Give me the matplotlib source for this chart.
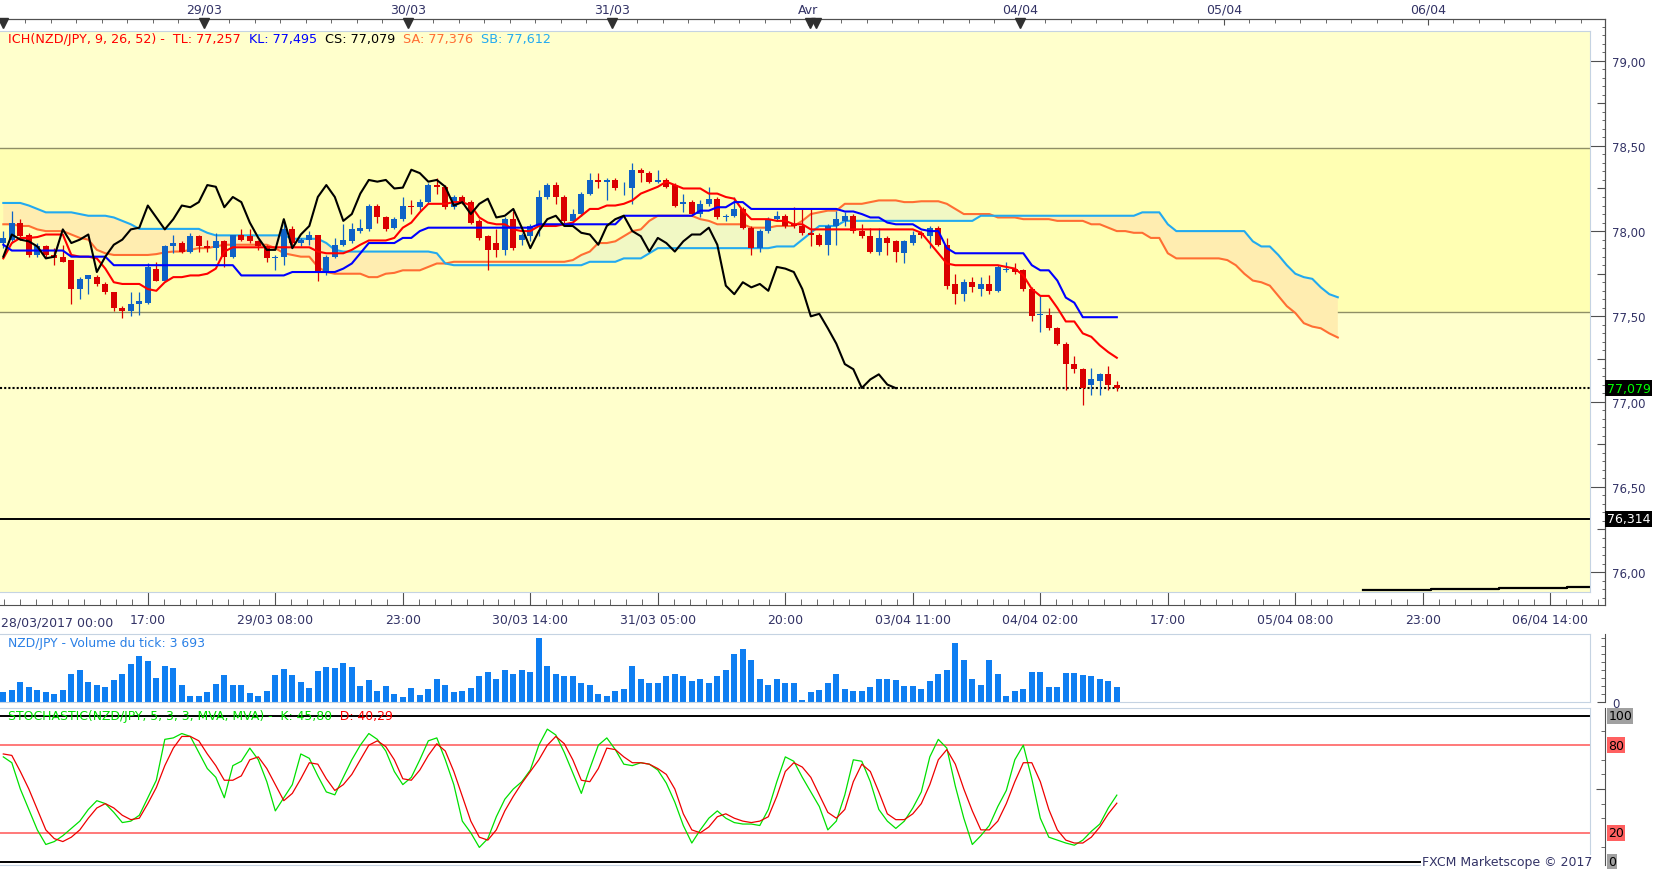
import numpy as np
import matplotlib
matplotlib.use("Agg")
import matplotlib.pyplot as plt
from matplotlib.ticker import FixedLocator

# hourly bars, index 0 = 28/03/2017 00:00 (weekend gap skipped)
OPEN = [77.93, 77.95, 78.05, 77.98, 77.86, 77.91, 77.86, 77.85, 77.83, 77.66,
        77.72, 77.73, 77.69, 77.64, 77.55, 77.53, 77.57, 77.58, 77.78, 77.71,
        77.91, 77.93, 77.88, 77.97, 77.91, 77.90, 77.94, 77.85, 77.98, 77.97,
        77.94, 77.91, 77.84, 77.85, 78.01, 77.93, 77.95, 77.98, 77.76, 77.85,
        77.92, 77.94, 78.00, 78.01, 78.15, 78.08, 78.02, 78.07, 78.15, 78.14,
        78.17, 78.27, 78.26, 78.14, 78.20, 78.17, 78.06, 77.97, 77.93, 77.89,
        78.07, 77.95, 77.97, 78.03, 78.20, 78.27, 78.20, 78.06, 78.10, 78.22,
        78.30, 78.29, 78.30, 78.25, 78.25, 78.36, 78.34, 78.29, 78.30, 78.27,
        78.16, 78.17, 78.10, 78.16, 78.19, 78.08, 78.09, 78.13, 78.02, 77.90,
        78.00, 78.07, 78.09, 78.04, 78.03, 77.99, 77.98, 77.92, 78.03, 78.06,
        78.09, 78.00, 77.97, 77.88, 77.96, 77.94, 77.87, 77.93, 77.99, 77.97,
        78.02, 77.92, 77.69, 77.63, 77.70, 77.66, 77.69, 77.65, 77.77, 77.78,
        77.77, 77.66, 77.505, 77.51, 77.43, 77.34, 77.22, 77.19, 77.10, 77.12,
        77.16, 77.10]
HIGH = [78.00, 78.12, 78.07, 77.99, 77.93, 77.92, 77.90, 77.92, 77.83, 77.73,
        77.74, 77.74, 77.70, 77.64, 77.56, 77.64, 77.64, 77.81, 77.82, 77.92,
        77.98, 77.94, 77.99, 77.98, 77.95, 77.99, 77.95, 77.98, 78.01, 78.01,
        77.95, 77.92, 77.86, 78.06, 78.03, 77.96, 78.00, 77.98, 77.86, 77.96,
        78.04, 78.05, 78.07, 78.16, 78.16, 78.09, 78.08, 78.20, 78.18, 78.19,
        78.28, 78.31, 78.27, 78.21, 78.21, 78.18, 78.07, 77.98, 78.01, 78.08,
        78.12, 77.99, 78.04, 78.24, 78.28, 78.29, 78.21, 78.13, 78.23, 78.34,
        78.34, 78.31, 78.31, 78.29, 78.40, 78.37, 78.35, 78.36, 78.31, 78.28,
        78.22, 78.18, 78.18, 78.26, 78.20, 78.10, 78.20, 78.14, 78.03, 78.01,
        78.08, 78.12, 78.10, 78.14, 78.13, 78.13, 77.99, 78.04, 78.12, 78.11,
        78.10, 78.04, 78.02, 78.02, 77.97, 77.95, 77.95, 78.00, 78.00, 78.03,
        78.03, 77.96, 77.75, 77.72, 77.73, 77.73, 77.74, 77.80, 77.82, 77.81,
        77.78, 77.67, 77.62, 77.55, 77.44, 77.35, 77.27, 77.20, 77.20, 77.17,
        77.21, 77.12]
LOW = [77.90, 77.93, 77.95, 77.85, 77.85, 77.85, 77.80, 77.82, 77.57, 77.60,
       77.63, 77.68, 77.63, 77.53, 77.49, 77.50, 77.51, 77.57, 77.71, 77.70,
       77.87, 77.87, 77.87, 77.88, 77.88, 77.83, 77.79, 77.84, 77.94, 77.93,
       77.89, 77.82, 77.77, 77.80, 77.92, 77.91, 77.92, 77.71, 77.74, 77.84,
       77.91, 77.93, 77.99, 78.00, 78.05, 78.00, 78.01, 78.06, 78.10, 78.12,
       78.16, 78.22, 78.13, 78.13, 78.16, 78.04, 77.95, 77.77, 77.85, 77.86,
       77.89, 77.92, 77.94, 77.97, 78.19, 78.16, 78.05, 78.05, 78.09, 78.21,
       78.25, 78.18, 78.24, 78.21, 78.16, 78.29, 78.28, 78.28, 78.25, 78.14,
       78.11, 78.09, 78.08, 78.15, 78.07, 78.06, 78.08, 78.01, 77.86, 77.88,
       77.99, 78.06, 78.02, 78.02, 77.98, 77.91, 77.91, 77.86, 77.92, 78.03,
       77.99, 77.96, 77.87, 77.86, 77.86, 77.82, 77.81, 77.92, 77.96, 77.90,
       77.91, 77.66, 77.57, 77.59, 77.64, 77.62, 77.63, 77.64, 77.76, 77.75,
       77.65, 77.47, 77.41, 77.42, 77.33, 77.07, 77.17, 76.98, 77.04, 77.04,
       77.07, 77.06]
CLOSE = [77.96, 78.05, 77.97, 77.86, 77.91, 77.86, 77.84, 77.82, 77.66, 77.72,
         77.74, 77.69, 77.64, 77.55, 77.53, 77.57, 77.59, 77.79, 77.71, 77.91,
         77.93, 77.88, 77.97, 77.91, 77.90, 77.94, 77.85, 77.98, 77.95, 77.94,
         77.91, 77.84, 77.85, 78.01, 77.93, 77.95, 77.98, 77.76, 77.85, 77.92,
         77.95, 78.01, 78.02, 78.15, 78.08, 78.01, 78.07, 78.15, 78.14, 78.17,
         78.27, 78.26, 78.14, 78.20, 78.17, 78.05, 77.96, 77.89, 77.89, 78.07,
         77.90, 77.98, 78.03, 78.20, 78.27, 78.20, 78.06, 78.10, 78.22, 78.30,
         78.29, 78.30, 78.25, 78.255, 78.36, 78.34, 78.29, 78.30, 78.26, 78.15,
         78.17, 78.10, 78.16, 78.19, 78.08, 78.09, 78.13, 78.02, 77.90, 78.00,
         78.07, 78.09, 78.03, 78.03, 77.99, 77.98, 77.92, 78.03, 78.07, 78.09,
         78.00, 77.97, 77.88, 77.96, 77.93, 77.88, 77.94, 77.98, 77.98, 78.02,
         77.92, 77.68, 77.63, 77.70, 77.67, 77.69, 77.65, 77.79, 77.78, 77.76,
         77.66, 77.50, 77.515, 77.43, 77.34, 77.22, 77.19, 77.08, 77.13, 77.16,
         77.10, 77.079]

TENKAN = [77.84, 77.93, 77.96, 77.96, 77.965, 77.98, 77.98, 77.98, 77.86, 77.85,
          77.85, 77.84, 77.78, 77.70, 77.69, 77.69, 77.69, 77.66, 77.65, 77.70,
          77.73, 77.73, 77.74, 77.74, 77.75, 77.78, 77.88, 77.905, 77.905, 77.905,
          77.905, 77.905, 77.905, 77.905, 77.905, 77.905, 77.905, 77.88, 77.87, 77.87,
          77.87, 77.89, 77.92, 77.945, 77.945, 77.945, 77.96, 78.02, 78.05, 78.11,
          78.16, 78.16, 78.16, 78.17, 78.17, 78.15, 78.08, 78.05, 78.04, 78.04,
          78.01, 78.00, 78.00, 78.03, 78.03, 78.03, 78.04, 78.05, 78.09, 78.13,
          78.13, 78.15, 78.15, 78.16, 78.18, 78.22, 78.24, 78.26, 78.29, 78.27,
          78.25, 78.25, 78.25, 78.22, 78.22, 78.20, 78.19, 78.12, 78.07, 78.07,
          78.07, 78.06, 78.06, 78.04, 78.04, 78.01, 78.01, 78.01, 78.01, 78.01,
          78.01, 78.01, 78.01, 78.01, 78.01, 78.01, 78.01, 78.01, 77.99, 77.93,
          77.87, 77.81, 77.80, 77.80, 77.80, 77.80, 77.80, 77.80, 77.79, 77.78,
          77.74, 77.66, 77.62, 77.62, 77.55, 77.47, 77.47, 77.40, 77.38, 77.33,
          77.29, 77.257]
KIJUN = [77.92, 77.886, 77.886, 77.886, 77.886, 77.886, 77.886, 77.886, 77.85, 77.85,
         77.85, 77.85, 77.85, 77.80, 77.80, 77.80, 77.80, 77.80, 77.80, 77.80,
         77.80, 77.80, 77.80, 77.80, 77.80, 77.80, 77.80, 77.80, 77.74, 77.74,
         77.74, 77.74, 77.74, 77.74, 77.76, 77.76, 77.76, 77.76, 77.76, 77.76,
         77.78, 77.81, 77.87, 77.93, 77.93, 77.93, 77.93, 77.96, 77.96, 78.00,
         78.02, 78.02, 78.02, 78.02, 78.02, 78.02, 78.02, 78.02, 78.02, 78.02,
         78.02, 78.02, 78.02, 78.04, 78.04, 78.04, 78.04, 78.04, 78.04, 78.04,
         78.04, 78.04, 78.04, 78.09, 78.09, 78.09, 78.09, 78.09, 78.09, 78.09,
         78.09, 78.09, 78.12, 78.12, 78.14, 78.14, 78.17, 78.17, 78.13, 78.13,
         78.13, 78.13, 78.13, 78.13, 78.13, 78.13, 78.13, 78.13, 78.13, 78.115,
         78.115, 78.10, 78.08, 78.08, 78.05, 78.04, 78.04, 78.04, 78.01, 78.00,
         78.00, 77.90, 77.87, 77.87, 77.87, 77.87, 77.87, 77.87, 77.87, 77.87,
         77.87, 77.80, 77.77, 77.77, 77.71, 77.61, 77.58, 77.495, 77.495, 77.495,
         77.495, 77.495]
# senkou spans run 26 bars past the last candle
SENKOU_A = [78.04, 78.04, 78.03, 78.03, 78.01, 78.00, 78.00, 78.00, 77.98, 77.96,
            77.95, 77.89, 77.87, 77.86, 77.86, 77.86, 77.86, 77.86, 77.865, 77.875,
            77.88, 77.88, 77.89, 77.90, 77.90, 77.91, 77.92, 77.92, 77.92, 77.92,
            77.92, 77.92, 77.90, 77.87, 77.86, 77.85, 77.85, 77.79, 77.76, 77.75,
            77.75, 77.75, 77.75, 77.73, 77.73, 77.75, 77.755, 77.77, 77.77, 77.77,
            77.79, 77.81, 77.81, 77.82, 77.82, 77.82, 77.82, 77.82, 77.82, 77.82,
            77.82, 77.82, 77.82, 77.82, 77.82, 77.82, 77.82, 77.83, 77.86, 77.88,
            77.93, 77.93, 77.94, 77.97, 78.00, 78.01, 78.06, 78.09, 78.09, 78.09,
            78.09, 78.09, 78.07, 78.06, 78.04, 78.04, 78.04, 78.04, 78.02, 78.02,
            78.02, 78.03, 78.03, 78.03, 78.06, 78.10, 78.11, 78.12, 78.12, 78.16,
            78.16, 78.16, 78.17, 78.18, 78.18, 78.18, 78.17, 78.17, 78.175, 78.175,
            78.175, 78.16, 78.13, 78.10, 78.10, 78.10, 78.10, 78.08, 78.08, 78.08,
            78.07, 78.07, 78.07, 78.07, 78.06, 78.06, 78.06, 78.06, 78.04, 78.04,
            78.02, 78.00, 78.00, 77.99, 77.99, 77.96, 77.96, 77.87, 77.84, 77.84,
            77.84, 77.84, 77.84, 77.84, 77.83, 77.80, 77.75, 77.71, 77.70, 77.68,
            77.62, 77.56, 77.52, 77.46, 77.44, 77.43, 77.40, 77.376]
SENKOU_B = [78.165, 78.165, 78.165, 78.15, 78.13, 78.11, 78.11, 78.11, 78.11, 78.10,
            78.09, 78.09, 78.09, 78.08, 78.06, 78.04, 78.013, 78.013, 78.013, 78.013,
            78.013, 78.013, 78.013, 78.013, 77.99, 77.975, 77.975, 77.975, 77.975, 77.975,
            77.975, 77.975, 77.975, 77.975, 77.955, 77.955, 77.955, 77.955, 77.93, 77.89,
            77.88, 77.88, 77.88, 77.88, 77.88, 77.88, 77.88, 77.88, 77.88, 77.88,
            77.88, 77.87, 77.81, 77.80, 77.80, 77.80, 77.80, 77.80, 77.80, 77.80,
            77.80, 77.80, 77.80, 77.80, 77.80, 77.80, 77.80, 77.80, 77.80, 77.82,
            77.82, 77.82, 77.82, 77.84, 77.84, 77.84, 77.87, 77.90, 77.90, 77.90,
            77.90, 77.90, 77.90, 77.90, 77.90, 77.90, 77.90, 77.90, 77.90, 77.90,
            77.90, 77.91, 77.91, 77.91, 77.95, 77.99, 78.03, 78.03, 78.03, 78.06,
            78.06, 78.06, 78.06, 78.06, 78.06, 78.06, 78.06, 78.06, 78.06, 78.06,
            78.06, 78.06, 78.06, 78.06, 78.06, 78.09, 78.09, 78.09, 78.09, 78.09,
            78.09, 78.09, 78.09, 78.09, 78.09, 78.09, 78.09, 78.09, 78.09, 78.09,
            78.09, 78.09, 78.09, 78.09, 78.11, 78.11, 78.11, 78.04, 78.00, 78.00,
            78.00, 78.00, 78.00, 78.00, 78.00, 78.00, 78.00, 77.94, 77.91, 77.91,
            77.86, 77.80, 77.75, 77.73, 77.72, 77.67, 77.63, 77.612]
CHIKOU_SHIFT = 26

VOLUME = [2570, 2980, 4970, 3730, 2980, 2490, 1990, 2980, 7040, 7950,
          4970, 4310, 3730, 5470, 7040, 9530, 11430, 10190, 5960, 9030,
          8450, 4310, 1490, 1490, 2490, 4560, 6710, 4310, 4310, 2240,
          1490, 2730, 6790, 8200, 6790, 4970, 3480, 7700, 8700, 8450,
          9690, 8700, 3980, 5470, 2730, 3980, 1990, 1240, 3480, 1740,
          3170, 5810, 4220, 2380, 2640, 3430, 6340, 7390, 5810, 7920,
          6860, 7920, 7390, 15840, 8980, 6860, 6340, 6340, 4750, 4220,
          2110, 1580, 2640, 3170, 8980, 5810, 4750, 4750, 6340, 6860,
          6340, 5280, 5810, 4750, 6340, 7920, 11880, 13200, 10560, 5810,
          4220, 5810, 4750, 4750, 530, 2380, 2900, 4750, 6860, 3170,
          2640, 2640, 3700, 5810, 5810, 5540, 3960, 3960, 3170, 5280,
          6860, 7920, 14780, 10560, 5810, 4220, 10560, 6860, 1580, 2640,
          3170, 7390, 7390, 3700, 3700, 7130, 7130, 6600, 6340, 5810,
          5280, 3693]

STOCH_K = [72, 68, 50, 36, 22, 12, 14, 18, 23, 28,
           36, 42, 40, 34, 27, 28, 32, 44, 56, 84,
           85, 88, 86, 75, 64, 58, 44, 66, 69, 78,
           70, 55, 35, 44, 53, 74, 71, 59, 48, 46,
           58, 70, 80, 88, 84, 76, 62, 53, 58, 70,
           83, 85, 70, 53, 28, 20, 10, 16, 31, 43,
           50, 55, 63, 80, 91, 87, 75, 61, 47, 64,
           80, 85, 77, 67, 66, 68, 67, 63, 54, 41,
           25, 13, 22, 30, 35, 30, 27, 26, 26, 25,
           36, 55, 72, 69, 58, 48, 38, 22, 28, 46,
           70, 69, 55, 36, 28, 23, 28, 37, 48, 72,
           84, 78, 52, 30, 12, 18, 25, 38, 49, 70,
           80, 57, 30, 17, 15, 13, 11.5, 15, 21, 26,
           37, 45.8]
STOCH_D = [74, 73, 62, 50, 36, 22, 16, 14, 17, 22,
           30, 37, 40, 37, 32, 29, 30, 40, 51, 66,
           78, 86, 86, 83, 74, 66, 56, 56, 59, 70,
           72, 64, 53, 42, 47, 57, 68, 67, 57, 49,
           53, 60, 70, 80, 83, 79, 70, 57, 56, 63,
           73, 81, 76, 62, 45, 28, 17, 15, 22, 35,
           45, 54, 62, 70, 80, 86, 81, 70, 56, 55,
           64, 78, 77, 72, 68, 68, 67, 64, 60, 50,
           33, 22, 20, 24, 31, 33, 30, 28, 27, 28,
           31, 45, 62, 68, 65, 58, 46, 34, 30, 36,
           55, 67, 62, 48, 33, 29, 29, 33, 40, 53,
           70, 77, 67, 50, 35, 22, 22, 28, 40, 55,
           68, 68, 55, 36, 22, 15, 13, 13, 17, 24,
           33, 40.29]

BAND = (77.524, 78.487)
SUPPORT = 76.314
LAST = 77.079
TREND_X = [160, 168, 176, 184, 187]
TREND_Y = [75.893, 75.900, 75.907, 75.915, 75.915]

PRICE_TICKS = [76.0, 76.5, 77.0, 77.5, 78.0, 78.5, 79.0]
BOTTOM_TICKS = [17, 32, 47, 62, 77, 92, 107, 122, 137, 152, 167, 182]
BOTTOM_LABELS = ["17:00", "29/03 08:00", "23:00", "30/03 14:00", "31/03 05:00",
                 "20:00", "03/04 11:00", "04/04 02:00", "17:00", "05/04 08:00",
                 "23:00", "06/04 14:00"]
DAY_TICKS = [23.6, 47.6, 71.6, 94.7, 119.6, 143.6, 167.6]
DAY_LABELS = ["29/03", "30/03", "31/03", "Avr", "04/04", "05/04", "06/04"]
DAY_MARKS = [0.0, 23.6, 47.6, 71.6, 94.9, 95.6, 119.6]

W, H, DPI = 1663, 870, 100
PT = 72 / DPI
AXC = "#505050"
TXT = "#333366"
EDGE = "#C5D3E2"

plt.rcParams["font.family"] = ["DejaVu Sans"]
fig = plt.figure(figsize=(W / DPI, H / DPI), dpi=DPI, facecolor="white")


def box(x0, y0, x1, y1):
    return [x0 / W, 1 - y1 / H, (x1 - x0) / W, (y1 - y0) / H]


BAR_PX, X_LEFT = 8.5, -0.39


def xlim(width):
    return (X_LEFT, X_LEFT + width / BAR_PX)


def price_at(y):
    return 79.0 - (y - 61.6) / 170.5


def stoch_at(y):
    return (863 - y) / 1.46


def vol_at(y):
    return (703 - y) * 248.5


def chain(x, y, parts, size=9.0):
    r = fig.canvas.get_renderer()
    for s, c in parts:
        t = fig.text(x / W, 1 - y / H, s, color=c, fontsize=size,
                     ha="left", va="center", zorder=10)
        x += t.get_window_extent(r).width


def right_frame(y0, y1, ylim):
    f = fig.add_axes(box(0, y0, 1605, y1), zorder=0)
    f.patch.set_visible(False)
    f.set_xlim(xlim(1605))
    f.set_ylim(*ylim)
    for s in ("left", "top", "bottom"):
        f.spines[s].set_visible(False)
    f.spines["right"].set_color(AXC)
    f.set_xticks([])
    f.yaxis.tick_right()
    f.tick_params(axis="y", which="both", direction="in", color=AXC,
                  labelcolor=TXT, labelsize=8.5, pad=7 * PT)
    return f


# ---- price frame with time/price scales ----
frame = fig.add_axes(box(0, 20, 1605, 606), zorder=0)
frame.patch.set_visible(False)
frame.set_xlim(xlim(1605))
frame.set_ylim(price_at(606), price_at(20))
frame.spines["left"].set_visible(False)
for s in ("top", "right", "bottom"):
    frame.spines[s].set_color(AXC)
frame.yaxis.tick_right()
frame.set_yticks(PRICE_TICKS, [f"{v:.2f}".replace(".", ",") for v in PRICE_TICKS])
frame.yaxis.set_minor_locator(FixedLocator(np.arange(75.85, 79.25, 0.05)))
frame.tick_params(axis="y", which="major", direction="in", length=15 * PT,
                  color=AXC, labelcolor=TXT, labelsize=8.5, pad=7 * PT)
frame.tick_params(axis="y", which="minor", direction="in", length=3.5 * PT, color=AXC)
frame.set_xticks(BOTTOM_TICKS, BOTTOM_LABELS)
frame.xaxis.set_minor_locator(FixedLocator(np.arange(0.125, 188, 15 / 8)))
frame.tick_params(axis="x", which="major", direction="in", length=13 * PT,
                  color=AXC, labelcolor=TXT, labelsize=9, pad=8 * PT)
frame.tick_params(axis="x", which="minor", direction="in", length=6 * PT, color=AXC)
mid = frame.secondary_yaxis("right")
mid.set_yticks(np.arange(76.25, 79.1, 0.5), [])
mid.tick_params(direction="in", length=8 * PT, color=AXC)
mid.spines["right"].set_color(AXC)

top = frame.secondary_xaxis("top")
top.set_xticks(DAY_TICKS, DAY_LABELS)
top.xaxis.set_minor_locator(FixedLocator(np.arange(-0.4, 188, 3)))
top.tick_params(which="major", direction="in", length=6 * PT, color=AXC,
                labelcolor=TXT, labelsize=9, pad=3 * PT)
top.tick_params(which="minor", direction="in", length=4 * PT, color=AXC)
top.spines["top"].set_color(AXC)
frame.plot(DAY_MARKS, [price_at(24)] * len(DAY_MARKS), ls="none", marker="v",
           ms=6.5, color="#303030", clip_on=False, zorder=3)
fig.text(1 / W, 1 - 623 / H, "28/03/2017 00:00", color=TXT, fontsize=9,
         ha="left", va="center")

# ---- price panel ----
ax = fig.add_axes(box(0, 32, 1590, 593), zorder=2)
ax.set_facecolor("#FFFFCC")
ax.set_xlim(xlim(1590))
ax.set_ylim(price_at(593), price_at(32))
ax.set_xticks([])
ax.set_yticks([])
for s in ax.spines.values():
    s.set_color(EDGE)
ax.spines["left"].set_visible(False)

ax.axhspan(*BAND, color="#FFFFB3", lw=0, zorder=0.5)
for lvl in BAND:
    ax.axhline(lvl, color="#8F8F66", lw=1, zorder=0.6)

xc = np.arange(len(SENKOU_A))
sa, sb = np.array(SENKOU_A), np.array(SENKOU_B)
ax.fill_between(xc, sa, sb, where=sa >= sb, interpolate=True, color="#F1F8C4", lw=0, zorder=1)
ax.fill_between(xc, sa, sb, where=sa < sb, interpolate=True, color="#FFEDB0", lw=0, zorder=1)
ax.plot(xc, sa, color="#FF6E33", lw=1.5, zorder=2)
ax.plot(xc, sb, color="#22AAF0", lw=1.5, zorder=2)

ax.axhline(LAST, color="black", lw=1.5, ls=(0, (1, 1)), zorder=2)
ax.axhline(SUPPORT, color="black", lw=1.4, zorder=2)
ax.step(TREND_X, TREND_Y, where="post", color="black", lw=1.6, zorder=2)

xb = np.arange(len(CLOSE))
o, hi, lo, c = map(np.array, (OPEN, HIGH, LOW, CLOSE))
col = np.where(c >= o, "#0E62C6", "#DA0000")
ax.vlines(xb, lo, hi, colors=col, lw=0.9, zorder=3)
ax.bar(xb, np.maximum(np.abs(c - o), 0.004), bottom=np.minimum(o, c),
       width=0.72, color=col, lw=0, zorder=3)

ax.plot(xb, TENKAN, color="#FF0000", lw=1.5, zorder=4)
ax.plot(xb, KIJUN, color="#0000FF", lw=1.5, zorder=4)
ax.plot(xb[:-CHIKOU_SHIFT], CLOSE[CHIKOU_SHIFT:], color="black", lw=1.5, zorder=4)

for val, fg in ((LAST, "#00FF00"), (SUPPORT, "white")):
    frame.text(1.001, val, f"{val:.3f}".replace(".", ","), color=fg, fontsize=9,
               transform=frame.get_yaxis_transform(), ha="left", va="center",
               bbox=dict(boxstyle="square,pad=0.12", fc="black", ec="none"), zorder=5)

chain(8, 40, [("ICH(NZD/JPY, 9, 26, 52) -  TL: 77,257", "#FF0000"),
              ("  KL: 77,495", "#0000FF"),
              ("  CS: 77,079", "#000000"),
              ("  SA: 77,376", "#FF6E33"),
              ("  SB: 77,612", "#22AAF0")], size=9.2)

# ---- tick volume panel ----
vax = fig.add_axes(box(0, 635, 1590, 703), zorder=2)
vax.set_xlim(xlim(1590))
vax.set_ylim(0, vol_at(635))
vax.bar(xb, VOLUME, width=0.68, color="#0E7EF2", lw=0)
vax.set_xticks([])
vax.set_yticks([])
for s in vax.spines.values():
    s.set_color(EDGE)
vax.spines["left"].set_visible(False)
vf = right_frame(635, 703, (0, vol_at(635)))
vf.set_yticks([0], ["0"])
vf.yaxis.set_minor_locator(FixedLocator(np.arange(2000, 16500, 2000)))
vf.tick_params(axis="y", which="major", length=8 * PT)
vf.tick_params(axis="y", which="minor", length=4 * PT)
chain(8, 644, [("NZD/JPY - Volume du tick: 3 693", "#2A80E6")], size=8.9)

# ---- stochastic panel ----
sax = fig.add_axes(box(0, 709, 1590, 866), zorder=2)
sax.set_xlim(xlim(1590))
sax.set_ylim(stoch_at(866), stoch_at(709))
sax.set_xticks([])
sax.set_yticks([])
for s in sax.spines.values():
    s.set_color(EDGE)
sax.spines["left"].set_visible(False)
for lvl, cl, lw in ((100, "black", 1.4), (0, "black", 1.4), (80, "#FF5555", 1.1), (20, "#FF5555", 1.1)):
    sax.axhline(lvl, color=cl, lw=lw, zorder=1)
sax.plot(xb, STOCH_K, color="#00E000", lw=0.9, zorder=2)
sax.plot(xb, STOCH_D, color="#EE0000", lw=0.9, zorder=3)
sf = right_frame(709, 866, (stoch_at(866), stoch_at(709)))
sf.set_yticks([50], [""])
sf.yaxis.set_minor_locator(FixedLocator([10, 30, 40, 60, 70, 90]))
sf.tick_params(axis="y", which="major", length=9 * PT)
sf.tick_params(axis="y", which="minor", length=4 * PT)
for lvl, bg in ((100, "#A0A0A0"), (80, "#FF6060"), (20, "#FF6060"), (0, "#A0A0A0")):
    sf.text(1.002, lvl, str(lvl), color="black", fontsize=9,
            transform=sf.get_yaxis_transform(), ha="left", va="center",
            bbox=dict(boxstyle="square,pad=0.1", fc=bg, ec="none"), zorder=5)
chain(8, 717, [("STOCHASTIC(NZD/JPY, 5, 3, 3, MVA, MVA) -  K: 45,80", "#00E000"),
               ("  D: 40,29", "#FF0000")], size=8.9)
fig.text(1592 / W, 1 - 863 / H, "FXCM Marketscope \u00a9 2017", color=TXT, fontsize=9,
         ha="right", va="center", zorder=10,
         bbox=dict(boxstyle="square,pad=0.05", fc="white", ec="none"))

fig.savefig("out.png", dpi=DPI, facecolor="white")
